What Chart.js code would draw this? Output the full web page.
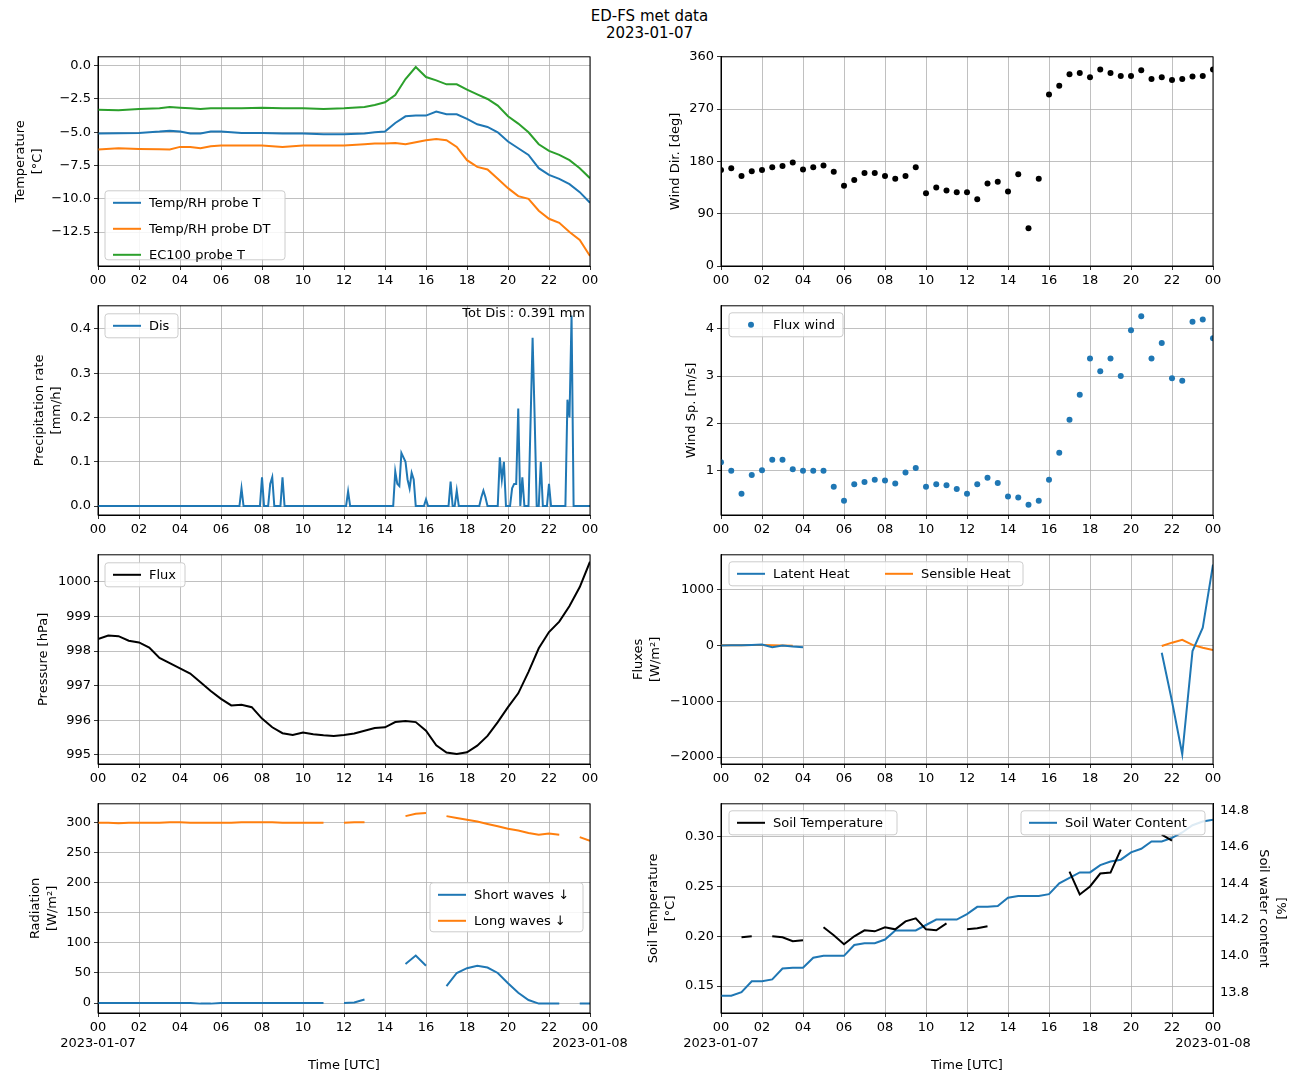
<!DOCTYPE html>
<html><head><meta charset="utf-8">
<script src="https://cdn.jsdelivr.net/npm/chart.js@4"></script>
<style>
body{margin:0;width:1299px;height:1083px;background:#fff;position:relative;font-family:"DejaVu Sans";overflow:hidden}
canvas{position:absolute}
.t{position:absolute;width:1299px;text-align:center;font-size:15px;left:0}
</style></head><body>
<div class="t" style="top:7px">ED-FS met data</div>
<div class="t" style="top:24px">2023-01-07</div>
<canvas id="c1"></canvas><canvas id="c2"></canvas><canvas id="c3"></canvas><canvas id="c4"></canvas>
<canvas id="c5"></canvas><canvas id="c6"></canvas><canvas id="c7"></canvas><canvas id="c8"></canvas>
<script>
const BLUE='#1f77b4',ORANGE='#ff7f0e',GREEN='#2ca02c';
const xTicks=[0,2,4,6,8,10,12,14,16,18,20,22,24];
const halfHours=[0,0.5,1,1.5,2,2.5,3,3.5,4,4.5,5,5.5,6,6.5,7,7.5,8,8.5,9,9.5,10,10.5,11,11.5,12,12.5,13,13.5,14,14.5,15,15.5,16,16.5,17,17.5,18,18.5,19,19.5,20,20.5,21,21.5,22,22.5,23,23.5,24];
// Temperature
const tTime=[0,1,2,3,3.5,4,4.5,5,5.5,6,7,8,9,10,11,12,13,13.5,14,14.5,15,15.5,16,16.5,17,17.5,18,18.5,19,19.5,20,20.5,21,21.5,22,22.5,23,23.5,24];
const tempT=[-5.1,-5.08,-5.05,-4.95,-4.88,-4.95,-5.1,-5.1,-4.95,-4.95,-5.05,-5.05,-5.1,-5.1,-5.15,-5.15,-5.1,-5.0,-4.95,-4.3,-3.8,-3.75,-3.75,-3.45,-3.65,-3.65,-4.0,-4.4,-4.6,-5.0,-5.7,-6.2,-6.7,-7.7,-8.2,-8.5,-8.9,-9.5,-10.3];
const tempDT=[-6.3,-6.2,-6.25,-6.28,-6.3,-6.1,-6.1,-6.2,-6.05,-6.0,-6.0,-6.0,-6.1,-6.0,-6.0,-6.0,-5.9,-5.85,-5.85,-5.8,-5.9,-5.75,-5.6,-5.5,-5.6,-6.1,-7.1,-7.6,-7.8,-8.5,-9.2,-9.8,-10.0,-10.9,-11.5,-11.8,-12.5,-13.1,-14.3];
const ec100T=[-3.3,-3.35,-3.25,-3.2,-3.1,-3.15,-3.2,-3.25,-3.2,-3.2,-3.2,-3.15,-3.2,-3.2,-3.25,-3.2,-3.1,-2.95,-2.75,-2.2,-1.0,-0.1,-0.85,-1.1,-1.4,-1.4,-1.8,-2.15,-2.5,-3.0,-3.8,-4.35,-5.0,-5.9,-6.4,-6.7,-7.1,-7.7,-8.45];
const tempTicks=[0,-2.5,-5,-7.5,-10,-12.5];
// Wind direction
const windDir=[165,168,155,163,165,170,172,178,166,170,173,162,138,148,160,160,155,150,155,170,125,135,130,127,127,115,142,145,128,158,65,150,295,310,330,332,325,338,332,327,327,337,322,325,320,322,326,327,338];
const dirTicks=[0,90,180,270,360];
// Precipitation
const pTime=[0,6.9,7.0,7.1,7.9,8.0,8.1,8.3,8.4,8.5,8.6,8.9,9.0,9.1,12.1,12.2,12.3,14.4,14.5,14.6,14.7,14.8,14.9,15.0,15.1,15.2,15.3,15.4,15.5,15.9,16.0,16.1,17.1,17.2,17.3,17.4,17.5,17.6,18.6,18.7,18.8,18.9,19.0,19.5,19.6,19.7,19.8,19.9,20.1,20.2,20.3,20.4,20.5,20.6,20.7,20.8,21.0,21.2,21.3,21.4,21.5,21.6,21.7,21.9,22.0,22.1,22.8,22.9,23.0,23.1,23.2,24];
const pRate=[0,0,0.04,0,0,0.065,0,0,0.05,0.065,0,0,0.065,0,0,0.033,0,0,0.078,0.05,0.045,0.12,0.11,0.1,0.06,0.04,0.075,0.06,0,0,0.015,0,0,0.055,0,0,0.035,0,0,0.02,0.035,0.02,0,0,0.11,0.06,0.1,0,0,0.04,0.05,0.05,0.22,0,0.065,0,0,0.38,0.2,0,0,0.1,0,0,0.05,0,0,0.24,0.2,0.43,0,0];
const precipTicks=[0,0.1,0.2,0.3,0.4];
// Wind speed
const windSp=[1.17,0.99,0.5,0.9,1.0,1.22,1.22,1.02,0.99,0.99,0.99,0.65,0.35,0.7,0.75,0.8,0.78,0.72,0.95,1.05,0.65,0.7,0.68,0.6,0.5,0.7,0.84,0.73,0.44,0.42,0.27,0.35,0.8,1.37,2.07,2.6,3.37,3.1,3.37,3.0,3.97,4.27,3.37,3.7,2.95,2.9,4.15,4.2,3.8];
const spTicks=[1,2,3,4];
// Pressure
const pressure=[998.35,998.45,998.43,998.3,998.25,998.1,997.8,997.65,997.5,997.35,997.1,996.85,996.62,996.43,996.45,996.38,996.05,995.8,995.63,995.58,995.65,995.6,995.57,995.55,995.58,995.62,995.7,995.78,995.8,995.95,995.98,995.95,995.7,995.28,995.07,995.03,995.08,995.27,995.55,995.95,996.38,996.78,997.4,998.08,998.55,998.85,999.3,999.85,1000.58];
const presTicks=[995,996,997,998,999,1000];
// Fluxes
const latent=[0,5,5,10,15,-30,0,-20,-30,null,null,null,null,null,null,null,null,null,null,null,null,null,null,null,null,null,null,null,null,null,null,null,null,null,null,null,null,null,null,null,null,null,null,-130,-1000,-1950,-100,320,1450];
const sensible=[5,5,5,8,10,5,0,-5,null,null,null,null,null,null,null,null,null,null,null,null,null,null,null,null,null,null,null,null,null,null,null,null,null,null,null,null,null,null,null,null,null,null,null,-10,50,100,10,-40,-80];
const fluxTicks=[-2000,-1000,0,1000];
// Radiation
const shortW=[0,0,0,0,0,0,0,0,0,0,-1,-1,0,0,0,0,0,0,0,0,0,0,0,null,0,1,6,null,null,null,65,79,62,null,28,50,58,62,59,50,33,17,5,-1,-1,-1,null,-1,-1];
const longW=[300,300,299,300,300,300,300,301,301,300,300,300,300,300,301,301,301,301,300,300,300,300,300,null,300,301,301,null,null,null,311,315,316,null,311,308,305,302,298,294,290,287,283,280,282,280,null,276,270];
const radTicks=[0,50,100,150,200,250,300];
// Soil
const soilT=[null,null,0.199,0.2,null,0.2,0.199,0.195,0.196,null,0.209,0.201,0.192,0.2,0.206,0.205,0.209,0.207,0.215,0.218,0.207,0.206,0.213,null,0.207,0.208,0.21,null,null,null,null,null,null,null,0.265,0.242,0.25,0.263,0.264,0.287,null,null,null,0.302,0.296,null,null,null,null];
const soilW=[13.78,13.78,13.8,13.86,13.86,13.87,13.93,13.935,13.935,13.99,14.0,14.0,14.0,14.06,14.07,14.07,14.09,14.14,14.14,14.14,14.17,14.2,14.2,14.2,14.23,14.27,14.27,14.275,14.32,14.33,14.33,14.33,14.34,14.4,14.43,14.46,14.46,14.5,14.52,14.53,14.57,14.59,14.63,14.63,14.65,14.68,14.72,14.74,14.75];
const soilTTicks=[0.15,0.2,0.25,0.3];
const soilWTicks=[13.8,14.0,14.2,14.4,14.6,14.8];

const FONT={family:'DejaVu Sans',size:13};
Chart.defaults.font=FONT;Chart.defaults.color='#000';Chart.defaults.animation=false;

const xy=(xs,ys)=>xs.map((x,i)=>({x,y:ys[i]}));
const fmtNum=(d)=>v=>v.toFixed(d).replace('-','\u2212');

const frame={id:'frame',afterDraw(c){const a=c.chartArea,g=c.ctx;g.save();g.strokeStyle='#000';g.lineWidth=1;g.strokeRect(a.left,a.top,a.right-a.left,a.bottom-a.top);
  g.font='13px DejaVu Sans';g.fillStyle='#000';
  const yt=c.options.plugins.ytitles;
  if(yt){yt.forEach(t=>{
    const s=c.scales[t.id];let w=0;s.ticks.forEach(tk=>{w=Math.max(w,g.measureText(s.options.ticks.callback(tk.value)).width)});
    const lines=Array.isArray(t.text)?t.text:[t.text];
    const cy=(a.top+a.bottom)/2;
    lines.forEach((l,i)=>{
      g.save();
      if(t.id==='y2'){const x=a.right+7+w+14+i*17;g.translate(x,cy);g.rotate(Math.PI/2);}
      else{const x=a.left-7-w-14-(lines.length-1-i)*17;g.translate(x,cy);g.rotate(-Math.PI/2);}
      g.textAlign='center';g.textBaseline='middle';g.fillText(l,0,0);g.restore();
    });
  });}
  const o=c.options.plugins.inleg;
  if(o){(Array.isArray(o)?o:[o]).forEach(L=>{
    const rh=26;const x0=a.left+L.x,y0=a.top+L.y;
    g.fillStyle='rgba(255,255,255,0.85)';g.strokeStyle='#ccc';g.lineWidth=1;
    g.beginPath();g.roundRect(x0,y0,L.w,L.h,3);g.fill();g.stroke();
    L.items.forEach((it,i)=>{
      const ix=x0+8+(it.dx||0), iy=y0+12+(it.row!=null?it.row:i)*rh;
      g.strokeStyle=it.c;g.fillStyle=it.c;
      if(it.dot){g.beginPath();g.arc(ix+14,iy,3,0,7);g.fill();}
      else{g.lineWidth=2;g.beginPath();g.moveTo(ix,iy);g.lineTo(ix+28,iy);g.stroke();}
      g.fillStyle='#000';g.textBaseline='middle';g.textAlign='left';g.fillText(it.t,ix+36,iy+1);
    });
  });}
  const tx=c.options.plugins.note;
  if(tx){g.fillStyle='#000';g.textAlign='right';g.textBaseline='middle';g.fillText(tx,a.right-5,a.top+8);}
  g.restore();}};

function panel(id,o){
  const col=o.col,row=o.row,bottom=row===3;
  const el=document.getElementById(id);
  const left=col===0?0:620,width=col===0?650:670;
  const top=[46,295,544,793][row],height=bottom?290:250;
  el.style.left=left+'px';el.style.top=top+'px';el.style.width=width+'px';el.style.height=height+'px';
  el.width=width;el.height=height;
  const scales={
    x:{type:'linear',min:0,max:24,
      afterFit:s=>{s.height=bottom?70:30;s.paddingLeft=0;s.paddingRight=0;},
      afterBuildTicks:s=>{s.ticks=xTicks.map(v=>({value:v}))},
      grid:{color:'#b0b0b0',lineWidth:0.8,tickColor:'#000',tickLength:4},border:{color:'#000'},
      ticks:{maxRotation:0,autoSkip:false,padding:3,callback:v=>{const l=String(v%24).padStart(2,'0');if(bottom&&v===0)return [l,'2023-01-07'];if(bottom&&v===24)return[l,'2023-01-08'];return l;}},
      title:{display:bottom,text:'Time [UTC]',padding:{top:0,bottom:10}}},
    y:{type:'linear',min:o.min,max:o.max,
      afterFit:s=>{s.width=col===0?98:101},
      afterBuildTicks:s=>{s.ticks=o.ticks.map(v=>({value:v}))},
      grid:{color:'#b0b0b0',lineWidth:0.8,tickColor:'#000',tickLength:4},border:{color:'#000'},
      ticks:{callback:o.fmt,padding:3},title:{display:false}}
  };
  const yt=[{id:'y',text:o.title}];
  if(o.y2){scales.y2=Object.assign({position:'right',type:'linear'},o.y2,{
      afterFit:s=>{s.width=77},
      afterBuildTicks:s=>{s.ticks=o.y2.tk.map(v=>({value:v}))},
      grid:{display:false,tickColor:'#000',tickLength:4},border:{color:'#000'},
      ticks:{callback:o.y2.fmt,padding:3},title:{display:false}});
    yt.push({id:'y2',text:o.y2.title});}
  new Chart(el,{type:'line',data:{datasets:o.ds.map(d=>Object.assign({borderWidth:2,pointRadius:0,spanGaps:false,tension:0,fill:false,borderColor:d.c,backgroundColor:d.c},d.dot?{showLine:false,pointRadius:3,pointBorderWidth:0}:{},d))},
    options:{responsive:false,layout:{padding:{top:10,right:col===0?60:(o.y2?0:77),left:0,bottom:0}},
      plugins:{legend:{display:false},tooltip:{enabled:false},inleg:o.leg,note:o.note,ytitles:yt},scales},plugins:[frame]});
}

panel('c1',{col:0,row:0,min:-15.05,max:0.67,ticks:tempTicks,fmt:fmtNum(1),title:['Temperature','[°C]'],
  ds:[{data:xy(tTime,tempT),c:BLUE},{data:xy(tTime,tempDT),c:ORANGE},{data:xy(tTime,ec100T),c:GREEN}],
  leg:{x:7,y:134,w:180,h:69,items:[{t:'Temp/RH probe T',c:BLUE},{t:'Temp/RH probe DT',c:ORANGE},{t:'EC100 probe T',c:GREEN}]}});
panel('c2',{col:1,row:0,min:0,max:360,ticks:dirTicks,fmt:v=>String(v),title:'Wind Dir. [deg]',
  ds:[{data:xy(halfHours,windDir),c:'#000',dot:true}]});
panel('c3',{col:0,row:1,min:-0.0202,max:0.452,ticks:precipTicks,fmt:fmtNum(1),title:['Precipitation rate','[mm/h]'],
  ds:[{data:xy(pTime,pRate),c:BLUE}],note:'Tot Dis : 0.391 mm',
  leg:{x:7,y:8,w:73,h:24,items:[{t:'Dis',c:BLUE}]}});
panel('c4',{col:1,row:1,min:0.05,max:4.49,ticks:spTicks,fmt:v=>String(v),title:'Wind Sp. [m/s]',
  ds:[{data:xy(halfHours,windSp),c:BLUE,dot:true}],
  leg:{x:8,y:7,w:114,h:24,items:[{t:'Flux wind',c:BLUE,dot:true}]}});
panel('c5',{col:0,row:2,min:994.74,max:1000.78,ticks:presTicks,fmt:v=>String(v),title:'Pressure [hPa]',
  ds:[{data:xy(halfHours,pressure),c:'#000'}],
  leg:{x:7,y:8,w:80,h:24,items:[{t:'Flux',c:'#000'}]}});
panel('c6',{col:1,row:2,min:-2125,max:1625,ticks:fluxTicks,fmt:fmtNum(0),title:['Fluxes','[W/m²]'],
  ds:[{data:xy(halfHours,latent),c:BLUE},{data:xy(halfHours,sensible),c:ORANGE}],
  leg:{x:8,y:7,w:294,h:24,items:[{t:'Latent Heat',c:BLUE,row:0},{t:'Sensible Heat',c:ORANGE,row:0,dx:148}]}});
panel('c7',{col:0,row:3,min:-16.6,max:331.5,ticks:radTicks,fmt:v=>String(v),title:['Radiation','[W/m²]'],
  ds:[{data:xy(halfHours,shortW),c:BLUE},{data:xy(halfHours,longW),c:ORANGE}],
  leg:{x:332,y:79,w:153,h:49,items:[{t:'Short waves \u2193',c:BLUE},{t:'Long waves \u2193',c:ORANGE}]}});
panel('c8',{col:1,row:3,min:0.123,max:0.333,ticks:soilTTicks,fmt:fmtNum(2),title:['Soil Temperature','[°C]'],
  y2:{min:13.685,max:14.838,tk:soilWTicks,fmt:fmtNum(1),title:['Soil water content','[%]']},
  ds:[{data:xy(halfHours,soilT),c:'#000'},{data:xy(halfHours,soilW),c:BLUE,yAxisID:'y2'}],
  leg:[{x:8,y:7,w:168,h:24,items:[{t:'Soil Temperature',c:'#000'}]},{x:300,y:7,w:184,h:24,items:[{t:'Soil Water Content',c:BLUE}]}]});
</script></body></html>
